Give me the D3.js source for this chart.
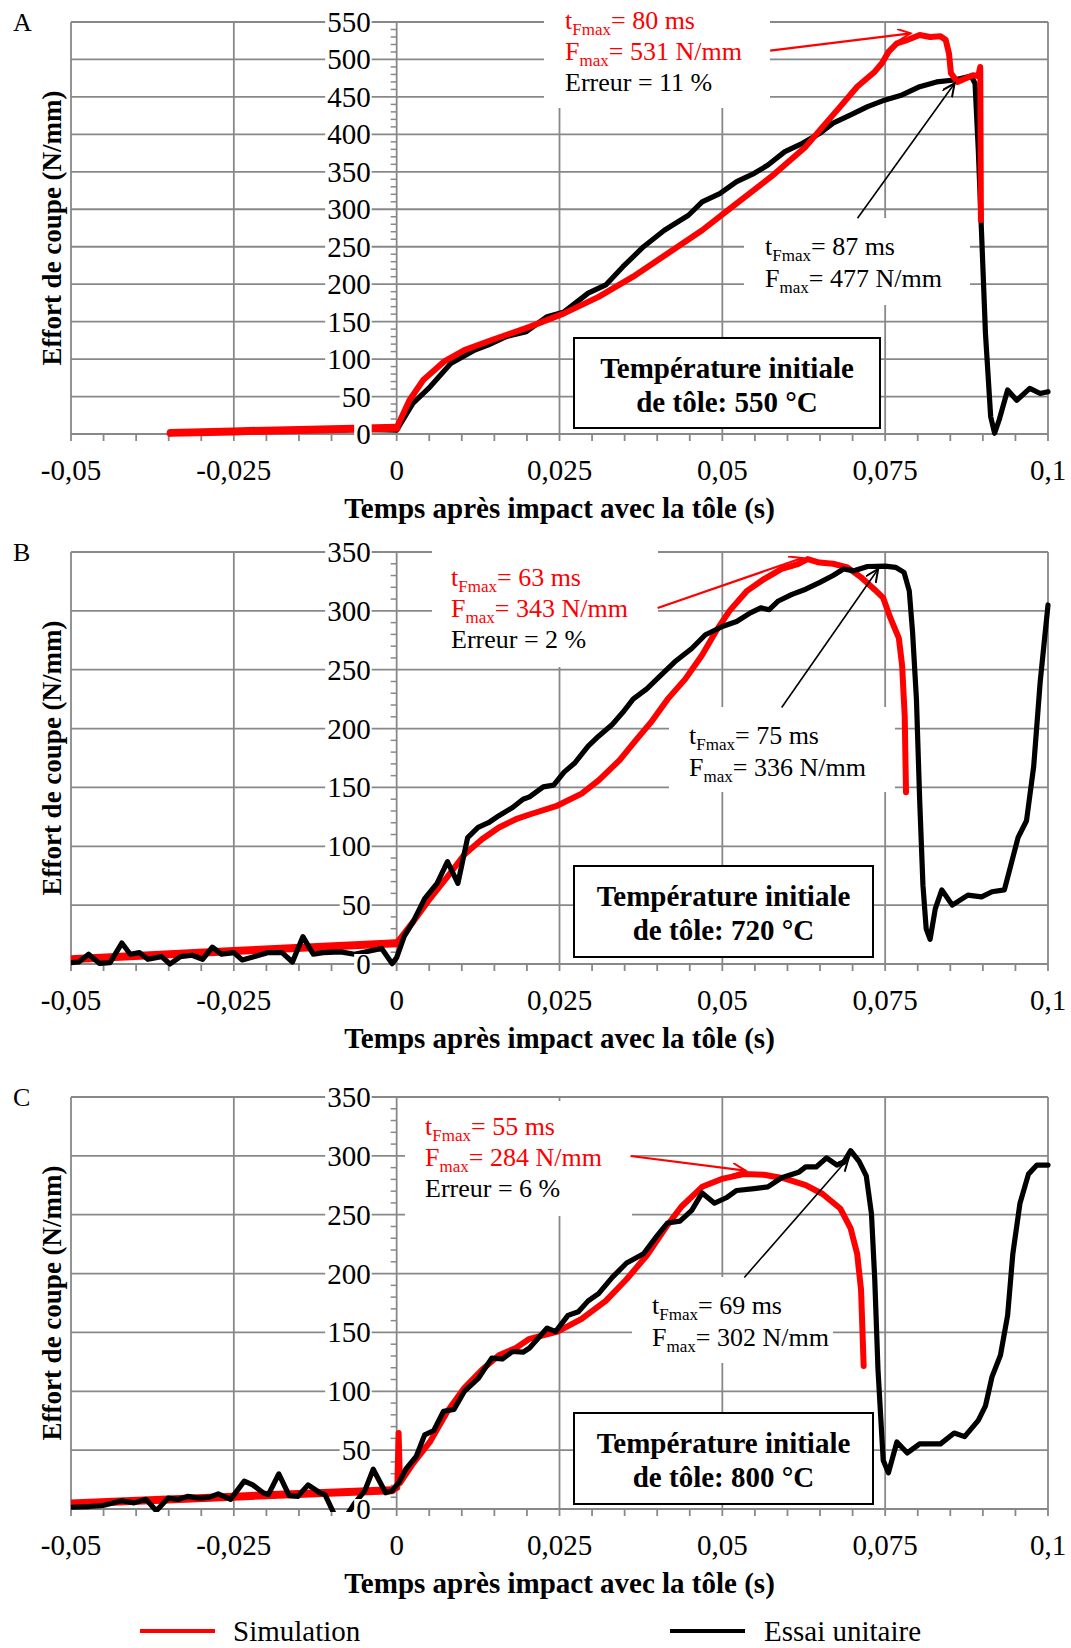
<!DOCTYPE html>
<html>
<head>
<meta charset="utf-8">
<script src="https://cdn.jsdelivr.net/npm/d3@7"></script>
<style>
  body { margin: 0; background: #fff; }
  svg { display: block; font-family: "Liberation Serif", "Times New Roman", serif; }
</style>
</head>
<body>
<script>
// x axis (time in s) ticks
var xTicks = [-0.05, -0.025, 0, 0.025, 0.05, 0.075, 0.1];
var xTickLabels = ["-0,05", "-0,025", "0", "0,025", "0,05", "0,075", "0,1"];

// ---- panel A (550 °C) : [t (s), F (N/mm)]
var simA_pre = [[-0.0347,1.5],[-0.025,3.5],[-0.015,5.5],[-0.005,7.5],[0,8.4]];
var simA = [[0,8.4],[0.00196,45],[0.00408,72],[0.00725,96.5],[0.0104,112],[0.0146,125.5],[0.0204,143],
  [0.0257,161],[0.031,183],[0.0363,210],[0.0416,241],[0.0469,272],[0.0522,308],[0.0575,343.5],
  [0.0628,383.6],[0.0654,410],[0.0681,437],[0.0707,463.6],[0.0734,483.7],[0.0745,495],[0.0755,510],
  [0.0768,521.6],[0.0781,525],[0.0803,532.6],[0.0819,530],[0.0835,531],[0.0843,526],[0.0848,508],
  [0.0851,481.5],[0.0861,470],[0.0874,475],[0.0885,479],[0.0893,478],[0.0896,490],[0.0897,285.7]];
var expA = [[-0.0347,1],[-0.025,3.5],[-0.015,5],[-0.005,6],[0,5.3],[0.00249,41],[0.00513,63],[0.0083,94],
  [0.012,112],[0.0141,119],[0.0168,130],[0.0199,136.6],[0.0231,156.6],[0.0257,163],[0.0294,188],
  [0.0321,199],[0.0347,223],[0.0379,250],[0.0411,272],[0.0448,292],[0.0469,310],[0.0496,321],
  [0.0522,337],[0.0549,348],[0.057,359],[0.0596,377],[0.0623,388],[0.0649,401],[0.067,415],
  [0.0697,426],[0.0723,437],[0.075,446],[0.0776,452.6],[0.0803,463.6],[0.0829,470],[0.0856,472.6],
  [0.0882,478],[0.0888,468],[0.0893,379],[0.0898,268],[0.0904,134],[0.0912,23],[0.0918,1],
  [0.0925,18.7],[0.0938,58.7],[0.0952,45],[0.0972,61],[0.0988,54],[0.1,56.5]];

// ---- panel B (720 °C)
var simB_pre = [[-0.05,4],[-0.025,11],[0,17.7]];
var simB = [[0,17.7],[0.00249,35.5],[0.00513,55.6],[0.00778,74],[0.0104,93],[0.0131,106],[0.0157,116],
  [0.0183,123],[0.0204,127],[0.0247,134.6],[0.0284,144.7],[0.031,156],[0.0342,173],[0.0368,190.6],
  [0.039,205],[0.0416,225],[0.0443,242],[0.0469,262.5],[0.049,282.5],[0.0511,300],[0.0538,317],
  [0.0564,327],[0.0591,335.6],[0.0617,340],[0.0631,344],[0.0649,341],[0.067,340],[0.0692,337],
  [0.0713,328.5],[0.0734,318],[0.0747,311],[0.0758,294],[0.0771,276.8],[0.0776,253.8],[0.078,210.8],
  [0.0782,146]];
var expB = [[-0.05,1.1],[-0.0488,1.7],[-0.0473,8.3],[-0.0456,0.5],[-0.044,1.1],[-0.0422,17.8],
  [-0.0409,8.3],[-0.0395,9.7],[-0.0382,4],[-0.0361,6.3],[-0.0348,0],[-0.0332,6.3],[-0.0314,7.4],
  [-0.0298,4],[-0.0283,14.3],[-0.0269,8.3],[-0.025,9.7],[-0.0237,3.4],[-0.0218,6.3],[-0.0197,9.7],
  [-0.0176,9.7],[-0.016,1.7],[-0.0144,23.2],[-0.0128,8.3],[-0.0113,9.7],[-0.0086,10.3],[-0.0065,8.3],
  [-0.0023,13.2],[-0.0007,0.3],[0,5.4],[0.0012,24],[0.0025,35.5],[0.0043,55.6],[0.0062,68.5],
  [0.0078,87],[0.0094,68.5],[0.0109,107.4],[0.0125,116],[0.0141,120],[0.0157,126],[0.0178,133],
  [0.0194,140],[0.0204,142],[0.0225,150.5],[0.0241,152],[0.0257,163],[0.0273,170.5],[0.0294,185],
  [0.031,193.5],[0.0331,203.5],[0.0347,213.6],[0.0363,225],[0.0384,233.7],[0.0405,245],[0.0427,256.7],
  [0.0453,268],[0.0474,279.7],[0.0501,286.9],[0.0522,291],[0.0543,298.3],[0.0559,302.6],[0.0572,301],
  [0.0586,308.4],[0.0607,314],[0.0628,318.4],[0.0649,324],[0.067,330],[0.0686,335.6],[0.0702,334],
  [0.0723,337.7],[0.075,338],[0.0766,337],[0.0779,332.7],[0.0787,317],[0.0792,282.5],[0.0798,225],
  [0.0803,139],[0.0808,67],[0.0813,29.8],[0.0819,21],[0.0827,47],[0.0837,63],[0.0853,50],[0.0877,58.5],
  [0.0898,57],[0.0914,61.4],[0.0933,63],[0.0943,84],[0.0954,107.4],[0.0967,121.7],[0.0978,167.6],
  [0.0988,239.5],[0.1,305]];

// ---- panel C (800 °C)
var simC_pre = [[-0.05,4.6],[-0.025,10.5],[-0.0007,16]];
var simC = [[-0.0007,16],[0.0001,18],[0.0003,64.5],[0.0005,22],[0.0025,38.5],[0.0051,57],[0.0078,83],
  [0.0104,103],[0.0131,118.3],[0.0157,130.6],[0.0183,136.8],[0.0204,144.6],[0.0247,150.7],[0.0284,161.5],
  [0.0321,176.8],[0.0353,195.2],[0.0384,215.3],[0.0416,241.4],[0.0437,256.8],[0.0469,273.7],[0.0501,280.7],
  [0.0533,284.5],[0.0564,283.9],[0.0596,280.7],[0.0628,275.2],[0.0654,267.6],[0.0681,255.3],[0.0697,238.3],
  [0.0707,216.8],[0.0713,186],[0.0717,121.5]];
var expC = [[-0.05,1.5],[-0.0472,2.1],[-0.0451,3],[-0.0422,7],[-0.0403,5.2],[-0.0385,8.2],[-0.0369,-1.5],
  [-0.0351,9.2],[-0.0335,8.2],[-0.0321,10.7],[-0.0303,9.2],[-0.0287,10.1],[-0.0274,12.9],[-0.0255,8.2],
  [-0.0234,23.7],[-0.0221,20.5],[-0.0205,13.8],[-0.0197,12.2],[-0.0181,29.8],[-0.0165,11.3],[-0.0152,10.7],
  [-0.0136,20.5],[-0.0118,13.8],[-0.011,12.2],[-0.0097,-3],[-0.0089,-15],[-0.0076,-5],[-0.0065,4.6],
  [-0.0049,15.4],[-0.0036,33.8],[-0.0017,13.8],[-0.0007,15.4],[0.0004,23],[0.0014,33.8],[0.003,44.6],
  [0.0043,63],[0.0057,66.7],[0.0072,83],[0.0088,84.5],[0.0104,100],[0.0125,110.7],[0.0146,128.2],
  [0.0162,127.4],[0.0178,133.8],[0.0194,133.2],[0.0204,136.8],[0.0231,153.7],[0.0244,150.7],[0.0263,164.5],
  [0.0279,167.6],[0.0294,176.8],[0.031,183],[0.0331,196.8],[0.0353,209],[0.0379,216.8],[0.04,232.2],
  [0.0416,243],[0.0435,244.5],[0.0453,253.7],[0.0469,268.5],[0.0488,259.8],[0.0506,264.4],[0.0522,270.6],
  [0.0549,272.2],[0.057,273.7],[0.0591,281.4],[0.0617,286],[0.0628,290.6],[0.0644,290.6],[0.066,298.3],
  [0.0676,292.2],[0.0686,294.3],[0.0697,304.4],[0.071,295.3],[0.0721,283],[0.0729,250.6],[0.0734,195.2],
  [0.0739,118.3],[0.0747,41.5],[0.0755,30.7],[0.0768,56.9],[0.0784,47.6],[0.0803,55.3],[0.0835,55.3],
  [0.0856,64.5],[0.0872,61.5],[0.0893,75.3],[0.0904,87.6],[0.0914,112.2],[0.0927,130.6],[0.0938,164.5],
  [0.0946,216.8],[0.0957,259.8],[0.097,284.5],[0.0983,292.2],[0.1,292.2]];

var red = "#ff0000", black = "#000000", grid = "#888888";

var width = 1071, height = 1648;
var svg = d3.select("body").append("svg")
    .attr("width", width)
    .attr("height", height);
svg.append("rect").attr("width", width).attr("height", height).attr("fill", "#fff");

// arrow heads
var defs = svg.append("defs");
[["hRed", red], ["hBlack", black]].forEach(function(m) {
  defs.append("marker")
      .attr("id", m[0])
      .attr("markerUnits", "userSpaceOnUse")
      .attr("markerWidth", 16).attr("markerHeight", 14)
      .attr("refX", 13).attr("refY", 6)
      .attr("orient", "auto")
    .append("path")
      .attr("d", "M0,0 L13,6 L0,12")
      .attr("fill", "none")
      .attr("stroke", m[1])
      .attr("stroke-width", 2);
});

var x = d3.scaleLinear().domain([-0.05, 0.1]).range([71, 1048]);

var panels = [
  { letter: "A", top: 22, bottom: 434, ymax: 550, temp: "550",
    series: [ {data: expA, color: black, w: 5.2},
              {data: simA_pre, color: red, w: 8},
              {data: simA, color: red, w: 6} ],
    whiteBoxes: [[544, 0, 226, 108], [744, 218, 226, 87]],
    tempBox: [574, 338, 306, 90],
    simNote: {x: 565, y: 29, t: "80 ms", f: "531 N/mm", err: "Erreur = 11 %"},
    expNote: {x: 765, y: 255, t: "87 ms", f: "477 N/mm"},
    simArrow: [[0.05734, 511.7], [0.0789, 534.9]],
    expArrow: [[0.07075, 288], [0.08567, 468.2]] },
  { letter: "B", top: 552, bottom: 964, ymax: 350, temp: "720",
    series: [ {data: simB_pre, color: red, w: 8},
              {data: simB, color: red, w: 6},
              {data: expB, color: black, w: 5.2} ],
    whiteBoxes: [[432, 540, 226, 127], [669, 707, 226, 85]],
    tempBox: [574, 866, 299, 91],
    simNote: {x: 451, y: 586, t: "63 ms", f: "343 N/mm", err: "Erreur = 2 %"},
    expNote: {x: 689, y: 744, t: "75 ms", f: "336 N/mm"},
    simArrow: [[0.04007, 302.4], [0.06227, 344.9]],
    expArrow: [[0.05911, 217.9], [0.07393, 335.6]] },
  { letter: "C", top: 1097, bottom: 1509, ymax: 350, temp: "800",
    series: [ {data: simC_pre, color: red, w: 8},
              {data: simC, color: red, w: 6},
              {data: expC, color: black, w: 5.2} ],
    whiteBoxes: [[405, 1101, 227, 115], [632, 1277, 201, 86]],
    tempBox: [574, 1413, 299, 91],
    simNote: {x: 425, y: 1135, t: "55 ms", f: "284 N/mm", err: "Erreur = 6 %"},
    expNote: {x: 652, y: 1314, t: "69 ms", f: "302 N/mm"},
    simArrow: [[0.0359, 299.9], [0.05354, 287.5]],
    expArrow: [[0.05337, 196.7], [0.0694, 298.2]] }
];

function subLine(g, px, py, color, lead, sub, rest) {
  var t = g.append("text")
      .attr("x", px).attr("y", py)
      .attr("fill", color)
      .attr("font-size", 26);
  t.append("tspan").text(lead);
  t.append("tspan").attr("font-size", 17).attr("dy", 6).text(sub);
  t.append("tspan").attr("dy", -6).text(rest);
}

function labelWithBox(g, px, py, txt, anchor) {
  var lg = g.append("g");
  var t = lg.append("text")
      .attr("x", px).attr("y", py)
      .attr("text-anchor", anchor)
      .attr("font-size", 29)
      .text(txt);
  var bb = t.node().getBBox();
  lg.insert("rect", "text")
      .attr("x", bb.x - 2).attr("y", py - 20)
      .attr("width", bb.width + 3).attr("height", 25)
      .attr("fill", "#fff");
}

function drawPanel(p, i) {
  var y = d3.scaleLinear().domain([0, p.ymax]).range([p.bottom, p.top]);
  var g = svg.append("g");

  // gridlines
  g.selectAll(null).data(d3.range(0, p.ymax + 1, 50)).enter().append("line")
      .attr("x1", x(-0.05)).attr("x2", x(0.1))
      .attr("y1", function(d) { return y(d); }).attr("y2", function(d) { return y(d); })
      .attr("stroke", grid).attr("stroke-width", 1.8);
  g.selectAll(null).data(xTicks).enter().append("line")
      .attr("x1", function(d) { return x(d); }).attr("x2", function(d) { return x(d); })
      .attr("y1", y(p.ymax)).attr("y2", y(0))
      .attr("stroke", grid).attr("stroke-width", 1.8);

  // x ticks every 0.005
  g.selectAll(null).data(d3.range(0, 31)).enter().append("line")
      .attr("x1", function(d) { return x(-0.05 + d * 0.005); })
      .attr("x2", function(d) { return x(-0.05 + d * 0.005); })
      .attr("y1", y(0)).attr("y2", y(0) + 7)
      .attr("stroke", grid).attr("stroke-width", 1.8);
  // y minor ticks every 10
  g.selectAll(null).data(d3.range(10, p.ymax, 10).filter(function(v) { return v % 50 != 0; }))
    .enter().append("line")
      .attr("x1", x(0) - 6).attr("x2", x(0))
      .attr("y1", function(d) { return y(d); }).attr("y2", function(d) { return y(d); })
      .attr("stroke", grid).attr("stroke-width", 1.5);

  // white label areas
  p.whiteBoxes.forEach(function(b) {
    g.append("rect").attr("x", b[0]).attr("y", b[1]).attr("width", b[2]).attr("height", b[3])
        .attr("fill", "#fff");
  });

  // temperature box
  var tb = p.tempBox;
  g.append("rect").attr("x", tb[0]).attr("y", tb[1]).attr("width", tb[2]).attr("height", tb[3])
      .attr("fill", "#fff").attr("stroke", black).attr("stroke-width", 2);
  var tt = g.append("text").attr("text-anchor", "middle").attr("font-size", 29).attr("font-weight", "bold");
  tt.append("tspan").attr("x", tb[0] + tb[2] / 2).attr("y", tb[1] + 40).text("Température initiale");
  tt.append("tspan").attr("x", tb[0] + tb[2] / 2).attr("y", tb[1] + 74).text("de tôle: " + p.temp + " °C");

  // curves
  svg.append("clipPath").attr("id", "clip" + i)
    .append("rect")
      .attr("x", x(-0.05)).attr("y", y(p.ymax) - 6)
      .attr("width", x(0.1) - x(-0.05) + 4).attr("height", y(0) - y(p.ymax) + 9);
  var valueline = d3.line()
      .x(function(d) { return x(d[0]); })
      .y(function(d) { return y(d[1]); });
  var lines = g.append("g").attr("clip-path", "url(#clip" + i + ")");
  p.series.forEach(function(s) {
    lines.append("path")
        .datum(s.data)
        .attr("d", valueline)
        .attr("fill", "none")
        .attr("stroke", s.color)
        .attr("stroke-width", s.w)
        .attr("stroke-linejoin", "round")
        .attr("stroke-linecap", "round");
  });

  // y tick labels on white, next to the x=0 axis
  d3.range(0, p.ymax + 1, 50).forEach(function(v) {
    labelWithBox(g, x(0) - 26, y(v) + 10, String(v), "end");
  });

  // x tick labels
  g.selectAll(null).data(xTicks).enter().append("text")
      .attr("x", function(d) { return x(d); })
      .attr("y", y(0) + 46)
      .attr("text-anchor", "middle")
      .attr("font-size", 29)
      .text(function(d, k) { return xTickLabels[k]; });

  // arrows
  [[p.simArrow, red, "hRed", 2.2], [p.expArrow, black, "hBlack", 1.6]].forEach(function(a) {
    g.append("line")
        .attr("x1", x(a[0][0][0])).attr("y1", y(a[0][0][1]))
        .attr("x2", x(a[0][1][0])).attr("y2", y(a[0][1][1]))
        .attr("stroke", a[1]).attr("stroke-width", a[3])
        .attr("marker-end", "url(#" + a[2] + ")");
  });

  // notes
  var sn = p.simNote;
  subLine(g, sn.x, sn.y, red, "t", "Fmax", "= " + sn.t);
  subLine(g, sn.x, sn.y + 31, red, "F", "max", "= " + sn.f);
  g.append("text").attr("x", sn.x).attr("y", sn.y + 62).attr("font-size", 26).text(sn.err);
  var en = p.expNote;
  subLine(g, en.x, en.y, black, "t", "Fmax", "= " + en.t);
  subLine(g, en.x, en.y + 32, black, "F", "max", "= " + en.f);

  // titles
  g.append("text")
      .attr("x", (x(-0.05) + x(0.1)) / 2).attr("y", y(0) + 84)
      .attr("text-anchor", "middle").attr("font-size", 29).attr("font-weight", "bold")
      .text("Temps après impact avec la tôle (s)");
  g.append("text")
      .attr("transform", "translate(61," + (p.top + p.bottom) / 2 + ") rotate(-90)")
      .attr("text-anchor", "middle").attr("font-size", 27).attr("font-weight", "bold")
      .text("Effort de coupe (N/mm)");
  g.append("text")
      .attr("x", 13).attr("y", p.top + 9)
      .attr("font-size", 26)
      .text(p.letter);
}

panels.forEach(drawPanel);

// legend
var legend = [["Simulation", red, 140, 233], ["Essai unitaire", black, 670, 764]];
legend.forEach(function(l) {
  svg.append("line").attr("x1", l[2]).attr("x2", l[2] + 75).attr("y1", 1631).attr("y2", 1631)
      .attr("stroke", l[1]).attr("stroke-width", 4);
  svg.append("text").attr("x", l[3]).attr("y", 1641).attr("font-size", 29).text(l[0]);
});
</script>
</body>
</html>
